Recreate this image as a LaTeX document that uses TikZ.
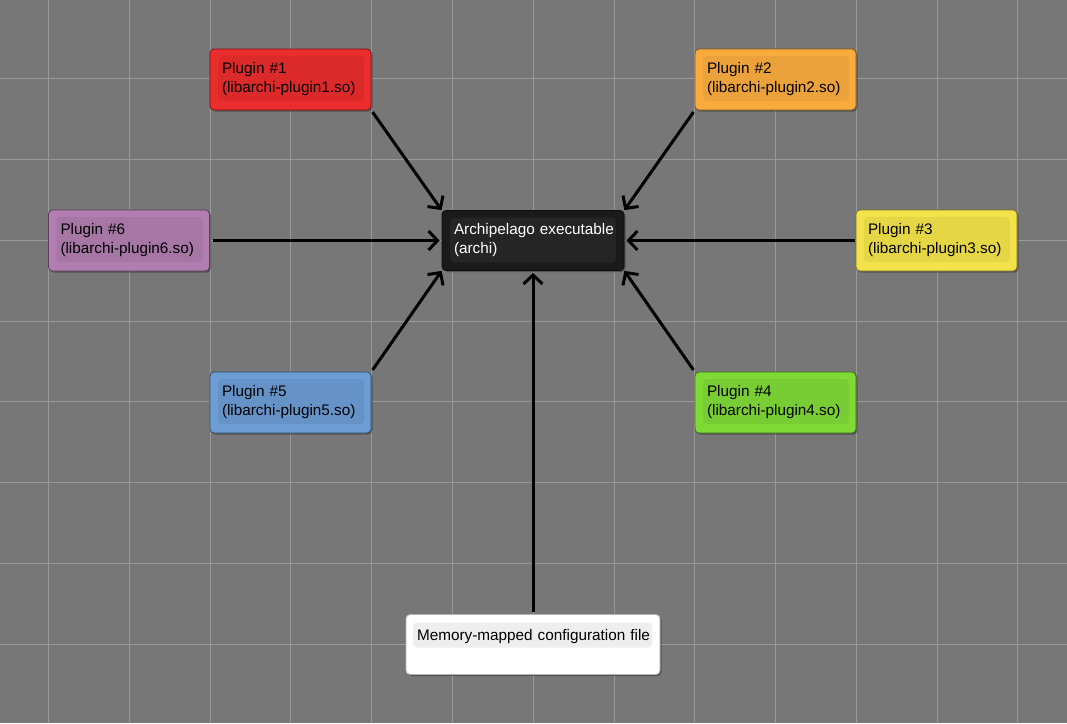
\documentclass[tikz,border=0pt]{standalone}
\usepackage{fontspec}
\setmainfont{Liberation Sans}
\usetikzlibrary{arrows.meta,shadows}
\definecolor{bg}{HTML}{777777}
\definecolor{gridc}{HTML}{999999}
\definecolor{redo}{HTML}{EC2D2D}\definecolor{redi}{HTML}{DC2929}
\definecolor{orao}{HTML}{F9AB3E}\definecolor{orai}{HTML}{EBA23A}
\definecolor{yelo}{HTML}{F3E24A}\definecolor{yeli}{HTML}{E5D646}
\definecolor{bluo}{HTML}{6C9DD5}\definecolor{blui}{HTML}{6593C8}
\definecolor{greo}{HTML}{80DA36}\definecolor{grei}{HTML}{77CD33}
\definecolor{puro}{HTML}{B27DB0}\definecolor{puri}{HTML}{A676A4}
\definecolor{blko}{HTML}{1A1A1A}\definecolor{blki}{HTML}{252525}
\definecolor{whto}{HTML}{FFFFFF}\definecolor{whti}{HTML}{EEEEEE}
\begin{document}
\begin{tikzpicture}[x=1pt,y=-1pt,
  basebox/.style={rectangle, rounded corners=4pt, fill=#1, draw=#1!50!black,
    line width=0.8pt, inner sep=0pt, align=left,
    font=\fontsize{15.3}{19}\selectfont,
    drop shadow={shadow xshift=1.5pt, shadow yshift=-1.5pt, opacity=0.3, fill=black}},
  plug/.style 2 args={basebox=#1, minimum width=161pt, minimum height=61pt, text width=137pt,
    path picture={\fill[#2] ([shift={(8pt,-7pt)}]path picture bounding box.north west)
      rectangle ([shift={(-7pt,9pt)}]path picture bounding box.south east);}},
  arr/.style={line width=3pt, -{Straight Barb[length=9pt,width=19pt]}},
  gridline/.style={gridc, line width=1pt},
]
\useasboundingbox (0,0) rectangle (1067,723);
\fill[bg] (0,0) rectangle (1067,723);
\foreach \x in {48.5,129.5,210.5,290.5,371.5,452.5,533.5,614.5,694.5,775.5,856.5,937.5,1017.5} {\draw[gridline] (\x,0) -- (\x,723);}
\foreach \y in {78.5,159.5,240.5,321.5,401.5,482.5,563.5,644.5} {\draw[gridline] (0,\y) -- (1067,\y);}

\node[plug={redo}{redi}] (p1) at (290.5,79.5) {Plugin \#1\\(libarchi-plugin1.so)};
\node[plug={orao}{orai}] (p2) at (775.5,79.5) {Plugin \#2\\(libarchi-plugin2.so)};
\node[plug={puro}{puri}] (p6) at (129,240.5) {Plugin \#6\\(libarchi-plugin6.so)};
\node[plug={yelo}{yeli}] (p3) at (936.5,240.5) {Plugin \#3\\(libarchi-plugin3.so)};
\node[plug={bluo}{blui}] (p5) at (290.5,402.5) {Plugin \#5\\(libarchi-plugin5.so)};
\node[plug={greo}{grei}] (p4) at (775.5,402.5) {Plugin \#4\\(libarchi-plugin4.so)};
\node[basebox=blko, text=white, minimum width=182pt, minimum height=60pt, text width=158pt,
  path picture={\fill[blki] ([shift={(8pt,-7pt)}]path picture bounding box.north west)
      rectangle ([shift={(-8pt,8pt)}]path picture bounding box.south east);}]
  (archi) at (533,240.5) {\mbox{Archipelago executable}\\(archi)};
\node[basebox=whto, draw=white!70!black, minimum width=254pt, minimum height=60pt, text width=232pt,
  path picture={\fill[whti] ([shift={(7pt,-8pt)}]path picture bounding box.north west)
      rectangle ([shift={(-8pt,-33pt)}]path picture bounding box.north east);}]
  (mem) at (533,644.5) {\mbox{Memory-mapped configuration file}\\\mbox{}};

\draw[arr, shorten <=2pt] (p1.south east) -- (archi.north west);
\draw[arr, shorten <=2pt] (p2.south west) -- (archi.north east);
\draw[arr, shorten <=3pt, shorten >=2pt] (p6.east) -- (archi.west);
\draw[arr, shorten <=1pt, shorten >=2pt] (p3.west) -- (archi.east);
\draw[arr, shorten <=2pt] (p5.north east) -- (archi.south west);
\draw[arr, shorten <=2pt] (p4.north west) -- (archi.south east);
\draw[arr, shorten <=2pt, shorten >=2pt] (mem.north) -- (archi.south);
\end{tikzpicture}
\end{document}
